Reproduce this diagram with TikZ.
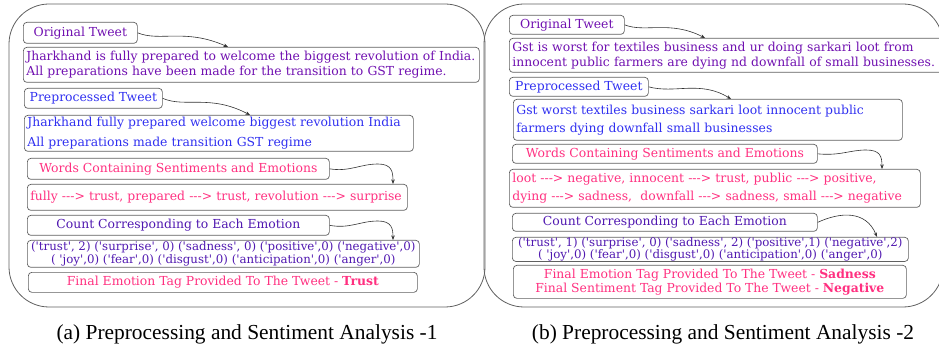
\documentclass[tikz,border=0pt]{standalone}
\usepackage{fontspec}
\newfontfamily\gfont{DejaVu Serif}
\newfontfamily\capfont{Liberation Serif}
\usetikzlibrary{calc,arrows.meta}
\definecolor{cPurple}{HTML}{7010B0}
\definecolor{cBlue}{HTML}{3030F0}
\definecolor{cPink}{HTML}{FF3080}
\definecolor{cIndigo}{HTML}{5018B0}
\definecolor{cLine}{HTML}{606060}
\tikzset{
  panel/.style={draw=cLine, line width=0.8pt, rounded corners=40pt},
  box/.style={draw=cLine, line width=0.7pt, rounded corners=3.5pt, anchor=north west, inner xsep=3pt, inner ysep=0pt, font=\gfont\fontsize{12.4}{15}\selectfont},
  lbox/.style={box, align=left},
  cbox/.style={box, align=center},
  link/.style={draw=black!80, line width=0.6pt, -{Stealth[length=4.5pt,width=3.5pt]}},
  caption/.style={font=\capfont\fontsize{21.4}{24}\selectfont, anchor=base}
}
\begin{document}
\begin{tikzpicture}[x=1pt,y=-1pt]
\useasboundingbox (0,0) rectangle (939,347);
% panels
\draw[panel] (9,4) rectangle (485,307);
\draw[panel] (484,4) rectangle (943,307);

% ---------- left panel ----------
\node[cbox, minimum width=114, minimum height=21, text=cPurple] (ot1) at (23,22) {Original Tweet};
\node[lbox, text width=450, minimum height=35, text=cPurple, font=\gfont\fontsize{12.4}{15}\selectfont] (tw1) at (23,47)
  {\mbox{Jharkhand is fully prepared to welcome the biggest revolution of India.}\\\mbox{All preparations have been made for the transition to GST regime.}};
\node[cbox, minimum width=138, minimum height=20, text=cBlue] (pt1) at (24,88) {Preprocessed Tweet};
\node[lbox, text width=383, minimum height=36, text=cBlue, font=\gfont\fontsize{12.4}{20}\selectfont] (pp1) at (24,115)
  {\mbox{Jharkhand fully prepared welcome biggest revolution India}\\\mbox{All preparations made transition GST regime}};
\node[cbox, minimum width=302, minimum height=21, text=cPink] (wc1) at (27,158) {Words Containing Sentiments and Emotions};
\node[lbox, text width=374, minimum height=26, text=cPink, font=\gfont\fontsize{12.4}{14}\selectfont] (we1) at (27,184)
  {\mbox{fully ---> trust, prepared ---> trust, revolution ---> surprise}};
\node[cbox, minimum width=392, minimum height=27, text=cIndigo, font=\gfont\fontsize{11.8}{13}\selectfont] (ce1) at (27,240)
  {('trust', 2) ('surprise', 0) ('sadness', 0) ('positive',0) ('negative',0)\\( 'joy',0) ('fear',0) ('disgust',0) ('anticipation',0) ('anger',0)};
\node[cbox, minimum width=302, minimum height=20, text=cIndigo] (cc1) at (27,215) {Count Corresponding to Each Emotion};
\node[cbox, minimum width=389, minimum height=20, text=cPink] (fe1) at (28,272)
  {Final Emotion Tag Provided To The Tweet - \textbf{Trust}};

\draw[link] (ot1.east) .. controls (160,42) and (185,28) .. ($(tw1.north west)+(205,0)$);
\draw[link] (pt1.east) .. controls (185,108) and (210,94) .. ($(pp1.north west)+(226,0)$);
\draw[link] (wc1.east) .. controls (350,172) and (360,164) .. (378,164) .. controls (392,164) and (393,172) .. ($(we1.north west)+(366,0)$);
\draw[link] (cc1.east) .. controls (350,229) and (360,221) .. (378,221) .. controls (392,221) and (393,229) .. ($(ce1.north west)+(366,0)$);

% ---------- right panel ----------
\node[cbox, minimum width=115, minimum height=19, text=cPurple] (ot2) at (509,15) {Original Tweet};
\node[lbox, text width=434, minimum height=34, text=cPurple, font=\gfont\fontsize{12.4}{15}\selectfont] (tw2) at (509,38)
  {\mbox{Gst is worst for textiles business and ur doing sarkari loot from}\\\mbox{innocent public farmers are dying nd downfall of small businesses.}};
\node[cbox, minimum width=139, minimum height=19, text=cBlue] (pt2) at (509,77) {Preprocessed Tweet};
\node[lbox, text width=383, minimum height=41, text=cBlue, font=\gfont\fontsize{12.4}{18}\selectfont] (pp2) at (513,99)
  {\mbox{Gst worst textiles business sarkari loot innocent public}\\\mbox{farmers dying downfall small businesses}};
\node[cbox, minimum width=305, minimum height=19, text=cPink] (wc2) at (512,144) {Words Containing Sentiments and Emotions};
\node[lbox, text width=405, minimum height=38, text=cPink, font=\gfont\fontsize{12.4}{18}\selectfont] (we2) at (509,169)
  {\mbox{loot ---> negative, innocent ---> trust, public ---> positive,}\\\mbox{dying ---> sadness,\ \ downfall ---> sadness, small ---> negative}};
\node[cbox, minimum width=305, minimum height=18, text=cIndigo] (cc2) at (512,213) {Count Corresponding to Each Emotion};
\node[cbox, minimum width=396, minimum height=23, text=cIndigo, font=\gfont\fontsize{11.8}{12.5}\selectfont] (ce2) at (512,237)
  {('trust', 1) ('surprise', 0) ('sadness', 2) ('positive',1) ('negative',2)\\( 'joy',0) ('fear',0) ('disgust',0) ('anticipation',0) ('anger',0)};
\node[cbox, minimum width=393, minimum height=33, text=cPink, font=\gfont\fontsize{12.4}{14}\selectfont] (fe2) at (513,265)
  {Final Emotion Tag Provided To The Tweet - \textbf{Sadness}\\Final Sentiment Tag Provided To The Tweet - \textbf{Negative}};

\draw[link] (ot2.east) .. controls (645,33) and (670,20) .. ($(tw2.north west)+(196,0)$);
\draw[link] (pt2.east) .. controls (675,94) and (700,80) .. ($(pp2.north west)+(218,0)$);
\draw[link] (wc2.east) .. controls (840,156) and (850,150) .. (866,150) .. controls (880,150) and (882,156) .. ($(we2.north west)+(373,0)$);
\draw[link] (cc2.east) .. controls (840,212) and (866,210) .. ($(ce2.north west)+(365,0)$);

% captions
\node[caption] (capa) at (247,339) {(a) Preprocessing and Sentiment Analysis -1};
\node[caption] (capb) at (723,339) {(b) Preprocessing and Sentiment Analysis -2};
\end{tikzpicture}
\end{document}
